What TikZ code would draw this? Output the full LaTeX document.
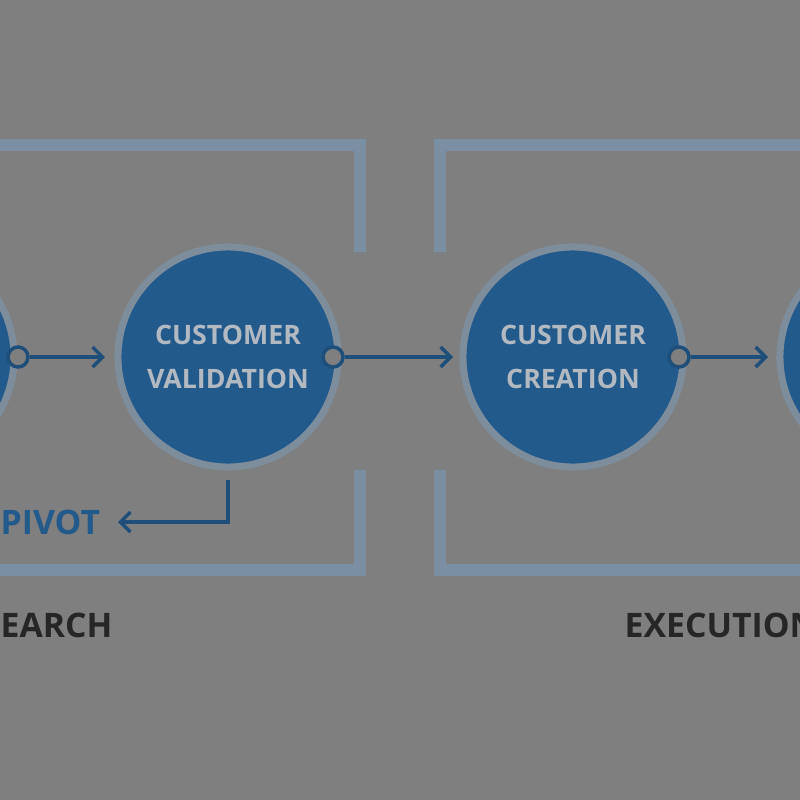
\documentclass[tikz,border=0pt]{standalone}
\usepackage{fontspec}
\setmainfont{Open Sans}
\usetikzlibrary{arrows.meta}
\definecolor{bggray}{HTML}{7F7F7F}
\definecolor{stage}{HTML}{235A8C}
\definecolor{halo}{HTML}{7E8D9C}
\definecolor{frame}{HTML}{7B8FA4}
\definecolor{link}{HTML}{1E4E7A}
\definecolor{captxt}{HTML}{B2B9C1}
\tikzset{
  stage/.style={circle,fill=stage,draw=halo,line width=0.07cm,minimum size=2.2cm,inner sep=0pt,
    text=captxt,align=center,font=\fontsize{7.6}{12.5}\selectfont\bfseries},
  port/.style={circle,fill=bggray,draw=link,line width=0.035cm,minimum size=0.2cm,inner sep=0pt},
  flow/.style={link,line width=0.035cm,-{Straight Barb[length=0.1cm,width=0.2cm]}},
  bracket/.style={frame,line width=0.12cm},
  phase/.style={anchor=west,font=\fontsize{9.6}{12}\selectfont\bfseries}
}
\begin{document}
\begin{tikzpicture}[x=0.01cm,y=-0.01cm]
  \fill[bggray] (0,0) rectangle (800,800);
  \clip (0,0) rectangle (800,800);
  % Brackets
  \draw[bracket] (-10,145) -- (360,145) -- (360,252);
  \draw[bracket] (360,470) -- (360,570) -- (-10,570);
  \draw[bracket] (440,252) -- (440,145) -- (810,145);
  \draw[bracket] (440,470) -- (440,570) -- (810,570);

  % Stages
  \node[stage] (s1) at (-96,357) {};
  \node[stage] (s2) at (228,357) {CUSTOMER\\VALIDATION};
  \node[stage] (s3) at (573,357) {CUSTOMER\\CREATION};
  \node[stage] (s4) at (890,357) {};

  % Ports
  \node[port] (p1) at (18,357) {};
  \node[port] (p2) at (333,357) {};
  \node[port] (p3) at (679,357) {};
  \coordinate (e1) at (105,357);
  \coordinate (e2) at (453,357);
  \coordinate (e3) at (768,357);
  \draw[flow] (p1) -- (e1);
  \draw[flow] (p2) -- (e2);
  \draw[flow] (p3) -- (e3);

  % Pivot
  \coordinate (v0) at (228,480);
  \node[phase,text=stage,inner sep=0pt] (pivot) at (0,522) {PIVOT};
  \coordinate (v1) at (118,522);
  \draw[flow] (v0) |- (v1);

  % Phase labels
  \node[phase,text=black!85,inner sep=0pt] (research) at (0,625) {EARCH};
  \node[phase,text=black!85,inner sep=0pt] (execution) at (624,625) {EXECUTION};
\end{tikzpicture}
\end{document}
